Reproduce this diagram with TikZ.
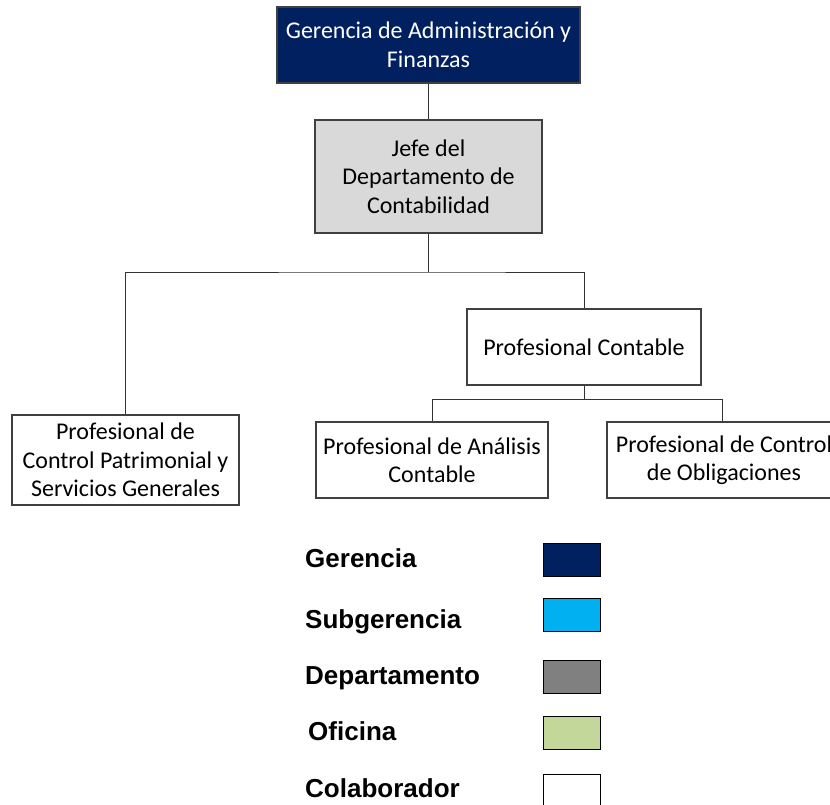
\documentclass[tikz,border=0pt]{standalone}
\usepackage{fontspec}
\setmainfont{Carlito}
\newfontfamily\legfont{Liberation Sans}
\definecolor{navy}{HTML}{002060}
\definecolor{cyanc}{HTML}{00B0F0}
\definecolor{greyc}{HTML}{808080}
\definecolor{greenc}{HTML}{C4D79B}
\definecolor{lightg}{HTML}{D9D9D9}
\tikzset{
  orgbox/.style={draw=black!75, line width=1.1pt, align=center, inner sep=2pt,
    font=\fontsize{24}{28.5}\selectfont},
  conn/.style={draw=black!80, line width=1pt},
  legbox/.style={draw=black, line width=0.9pt, minimum width=57pt, minimum height=33pt, inner sep=0pt},
  legtext/.style={anchor=base west, inner sep=0pt, font=\legfont\bfseries\fontsize{26}{30}\selectfont}
}
\begin{document}
\begin{tikzpicture}[x=1pt,y=-1pt]
\useasboundingbox (0,0) rectangle (830,804);
\clip (0,0) rectangle (830,804);
\node[orgbox, fill=navy, text=white, minimum width=303pt, minimum height=76pt] (ger) at (428.5,45) {Gerencia de Administración y\\Finanzas};
\node[orgbox, fill=lightg, minimum width=227pt, minimum height=113pt] (jefe) at (428.5,176.5) {Jefe del\\Departamento de\\Contabilidad};
\node[orgbox, fill=white, minimum width=227pt, minimum height=90pt] (pat) at (125.5,460) {Profesional de\\Control Patrimonial y\\Servicios Generales};
\node[orgbox, fill=white, minimum width=234pt, minimum height=76pt] (pc) at (584,347) {Profesional Contable};
\node[orgbox, fill=white, minimum width=232pt, minimum height=76pt] (ana) at (432,460) {Profesional de Análisis\\Contable};
\node[orgbox, fill=white, minimum width=234pt, minimum height=76pt] (obl) at (724,460) {Profesional de Control\\de Obligaciones};
\coordinate (b1) at (428.5,272);
\coordinate (b2) at (584,399);
\coordinate (b3) at (722,399);
\draw[conn] (ger.south) -- (jefe.north);
\draw[conn] (jefe.south) -- (b1);
\draw[conn] (pat.north) |- (b1) -| (pc.north);
\draw[conn] (pc.south) -- (b2);
\draw[conn] (ana.north) |- (b3) -- (b3 |- obl.north);
% legend
\node[legtext] (lg1) at (305,567) {Gerencia};
\node[legtext] (lg2) at (305,628) {Subgerencia};
\node[legtext] (lg3) at (305,684) {Departamento};
\node[legtext] (lg4) at (308,740) {Oficina};
\node[legtext] (lg5) at (305,797) {Colaborador};
\node[legbox, fill=navy] (lb1) at (571.5,559.5) {};
\node[legbox, fill=cyanc] (lb2) at (571.5,615) {};
\node[legbox, fill=greyc] (lb3) at (571.5,677) {};
\node[legbox, fill=greenc] (lb4) at (571.5,733) {};
\node[legbox, fill=white] (lb5) at (571.5,791) {};
\end{tikzpicture}
\end{document}
